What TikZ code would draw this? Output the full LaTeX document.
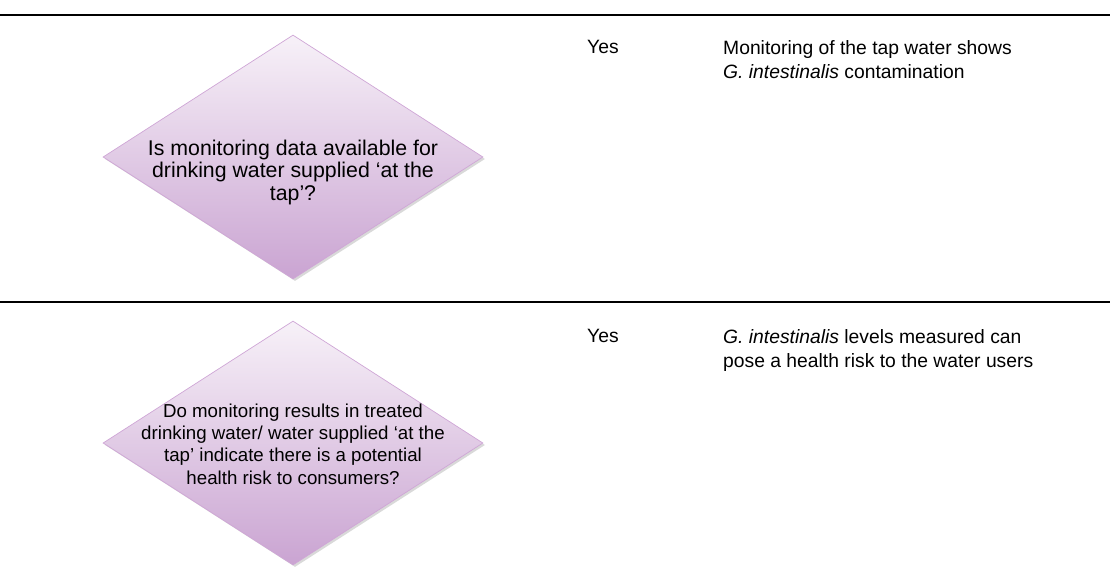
\documentclass[tikz,border=0pt]{standalone}
\usepackage{fontspec}
\setmainfont{Liberation Sans}
\usetikzlibrary{shapes.geometric,shadows}
\definecolor{dtop}{HTML}{F7F1F8}
\definecolor{dbot}{HTML}{CAA4D2}
\definecolor{dline}{HTML}{CFA6D6}
\tikzset{
  decision/.style={diamond, minimum width=380pt, minimum height=244pt, inner sep=0pt,
    top color=dtop, bottom color=dbot, draw=dline, line width=0.7pt,
    drop shadow={shadow xshift=2pt, shadow yshift=-2pt, opacity=0.25, fill=black!60}},
  qtext/.style={align=center, inner sep=0pt, font=\fontsize{21.3}{22.5}\selectfont},
  qtextb/.style={align=center, inner sep=0pt, font=\fontsize{18.7}{22.3}\selectfont},
  ansbox/.style={anchor=north west, align=left, inner sep=0pt, font=\fontsize{19.3}{24.5}\selectfont},
  rule/.style={line width=1.6pt, black}
}
\begin{document}
\begin{tikzpicture}[x=1pt,y=-1pt]
\useasboundingbox (0,0) rectangle (1110,581);
\coordinate (r1l) at (0,15);
\coordinate (r1r) at (1110,15);
\coordinate (r2l) at (0,302);
\coordinate (r2r) at (1110,302);
\draw[rule] (r1l) -- (r1r);
\draw[rule] (r2l) -- (r2r);
\node[decision] (d1) at (293,157) {};
\node[qtext] (t1) at (293,172) {Is monitoring data available for\\drinking water supplied ‘at the\\tap’?};
\node[decision] (d2) at (293,443) {};
\node[qtextb] (t2) at (293,444) {Do monitoring results in treated\\drinking water/ water supplied ‘at the\\tap’ indicate there is a potential\\health risk to consumers?};
\node[ansbox] (y1) at (587,40) {Yes};
\node[ansbox] (a1) at (723,40) {Monitoring of the tap water shows\\\textit{G. intestinalis} contamination};
\node[ansbox] (y2) at (587,329) {Yes};
\node[ansbox] (a2) at (723,329) {\textit{G. intestinalis} levels measured can\\pose a health risk to the water users};
\end{tikzpicture}
\end{document}
